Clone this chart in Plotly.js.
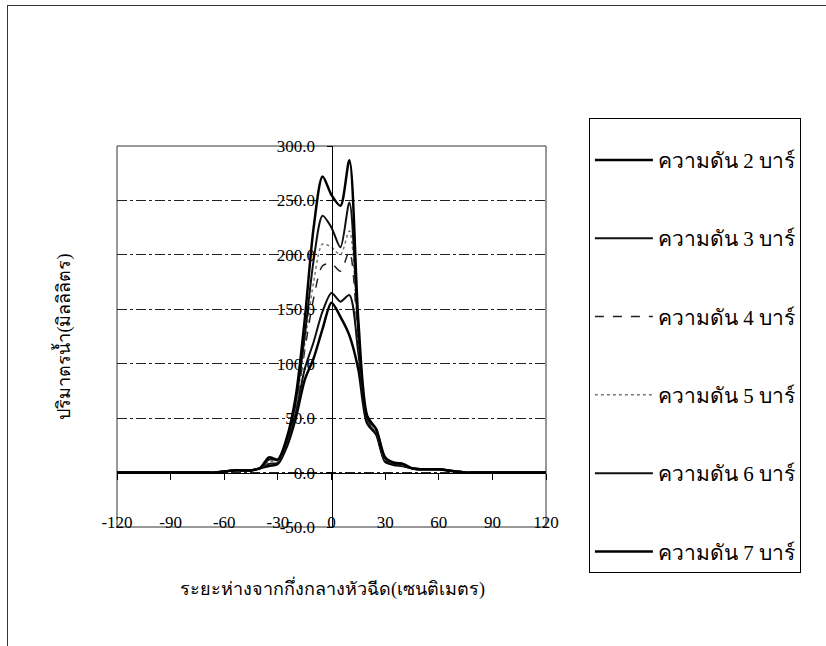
<!DOCTYPE html>
<html>
<head>
<meta charset="utf-8">
<script src="https://cdn.plot.ly/plotly-3.0.1.min.js"></script>
<style>
  html, body { margin: 0; padding: 0; background: #fff; }
  #wrap { position: relative; width: 826px; height: 646px; overflow: hidden; }
  #chart { width: 826px; height: 646px; }
  #frame { position: absolute; left: 7px; top: 5px; width: 900px; height: 700px;
           border-top: 1px solid #333; border-left: 1px solid #333; pointer-events: none; }
</style>
</head>
<body>
<div id="wrap">
  <div id="chart"></div>
  <div id="frame"></div>
</div>
<script>
// distance from nozzle centre (cm)
const distance = [-120,-115,-110,-105,-100,-95,-90,-85,-80,-75,-70,-65,-60,-55,-50,-45,-40,-35,-30,-25,-20,-15,-10,-5,0,5,10,15,20,25,30,35,40,45,50,55,60,65,70,75,80,85,90,95,100,105,110,115,120];

// water volume (ml) per pressure
const bar2 = [0,0,0,0,0,0,0,0,0,0,0,0,1,2,2,2,4,6,8,24,50,85,105,132,156,143,126,95,45,35,10,7,6,4,3,3,3,2,1,0,0,0,0,0,0,0,0,0,0];
const bar3 = [0,0,0,0,0,0,0,0,0,0,0,0,1,2,2,2,4,8,9,26,55,95,120,148,165,157,163,110,46,36,11,8,6,4,3,3,3,2,1,0,0,0,0,0,0,0,0,0,0];
const bar4 = [0,0,0,0,0,0,0,0,0,0,0,0,1,2,2,2,4,9,10,28,60,112,160,190,192,185,203,120,48,37,12,8,7,4,3,3,3,2,1,0,0,0,0,0,0,0,0,0,0];
const bar5 = [0,0,0,0,0,0,0,0,0,0,0,0,1,2,2,2,4,10,11,30,62,118,175,210,207,200,222,125,50,38,12,9,7,4,3,3,3,2,1,0,0,0,0,0,0,0,0,0,0];
const bar6 = [0,0,0,0,0,0,0,0,0,0,0,0,1,2,2,2,4,12,12,30,65,125,195,236,225,207,248,130,50,40,13,9,8,4,3,3,3,2,1,0,0,0,0,0,0,0,0,0,0];
const bar7 = [0,0,0,0,0,0,0,0,0,0,0,0,1,2,2,2,4,14,12,32,70,140,225,272,255,245,287,140,52,40,14,9,8,4,3,3,3,2,1,0,0,0,0,0,0,0,0,0,0];

const seriesNames = ['ความดัน 2 บาร์','ความดัน 3 บาร์','ความดัน 4 บาร์','ความดัน 5 บาร์','ความดัน 6 บาร์','ความดัน 7 บาร์'];
const seriesData = [bar2, bar3, bar4, bar5, bar6, bar7];
const yTicks = [-50,0,50,100,150,200,250,300];
const xTicks = [-120,-90,-60,-30,0,30,60,90,120];
const xTitle = 'ระยะห่างจากกึ่งกลางหัวฉีด(เซนติเมตร)';
const yTitle = 'ปริมาตรน้ำ(มิลลิลิตร)';

const styles = [
  {color:'#000', width:2.5, dash:'solid'},
  {color:'#111', width:2, dash:'solid'},
  {color:'#222', width:1.5, dash:'dash'},
  {color:'#777', width:1.5, dash:'dot'},
  {color:'#111', width:2, dash:'solid'},
  {color:'#000', width:2.5, dash:'solid'}
];

const serif = '"Liberation Serif", "DejaVu Serif", "Noto Sans", serif';

const traces = seriesData.map((d, i) => ({
  x: distance, y: d, name: seriesNames[i], type: 'scatter', mode: 'lines',
  legendgroup: 'g' + i,
  line: {color: styles[i].color, width: styles[i].width, dash: styles[i].dash, shape: 'spline', smoothing: 0.8},
  xaxis: 'x', yaxis: 'y'
}));
// axis line through y = 0 with its tick marks
traces.push({x: [], y: [], xaxis: 'x2', yaxis: 'y', showlegend: false, hoverinfo: 'skip', mode: 'lines'});

const layout = {
  width: 826, height: 646,
  margin: {l: 117, r: 280, t: 146, b: 119},
  paper_bgcolor: '#fff', plot_bgcolor: '#fff',
  font: {family: serif, color: '#000', size: 14},
  showlegend: true,
  xaxis: {
    range: [-120, 120], tickvals: xTicks, ticktext: xTicks.map(String),
    anchor: 'free', position: 0.045, showline: false, ticks: '', showgrid: false, zeroline: false,
    tickfont: {family: serif, size: 17, color: '#000'}
  },
  xaxis2: {
    range: [-120, 120], tickvals: xTicks, overlaying: 'x', anchor: 'free',
    position: 50/350, showline: true, linecolor: '#000', linewidth: 1.5,
    ticks: 'outside', ticklen: 6, tickcolor: '#000', showticklabels: false,
    showgrid: false, zeroline: false
  },
  yaxis: {
    range: [-50, 300], tickvals: yTicks, ticktext: yTicks.map(v => v.toFixed(1)),
    anchor: 'free', position: 0.5, side: 'left',
    showline: true, linecolor: '#000', linewidth: 1.5,
    ticks: 'outside', ticklen: 5, tickcolor: '#000', ticklabelstandoff: 8,
    showgrid: true, gridcolor: '#222', gridwidth: 1, griddash: '10px,3px,3px,3px',
    zeroline: false,
    tickfont: {family: serif, size: 17, color: '#000'}
  },
  legend: {
    x: 1.100, xanchor: 'left', y: 1.0735, yanchor: 'top',
    bordercolor: '#000', borderwidth: 1, bgcolor: '#fff',
    font: {family: serif, size: 21, color: '#000'},
    title: {text: ' ', font: {size: 16}},
    tracegroupgap: 48, itemwidth: 58,
    traceorder: 'grouped', maxheight: 620
  },
  shapes: [
    {type: 'rect', xref: 'paper', yref: 'paper', x0: 0, x1: 1, y0: 0, y1: 1,
     line: {color: '#333', width: 1}, layer: 'below'}
  ],
  annotations: [
    {text: xTitle, xref: 'paper', yref: 'paper', x: 0.502, y: -0.16, showarrow: false,
     xanchor: 'center', yanchor: 'middle', font: {family: serif, size: 18, color: '#000'}},
    {text: yTitle, xref: 'paper', yref: 'paper', x: -0.128, y: 0.5, showarrow: false,
     textangle: -90, xanchor: 'center', yanchor: 'middle', font: {family: serif, size: 18, color: '#000'}}
  ]
};

Plotly.newPlot('chart', traces, layout, {staticPlot: true, displayModeBar: false});
</script>
</body>
</html>
